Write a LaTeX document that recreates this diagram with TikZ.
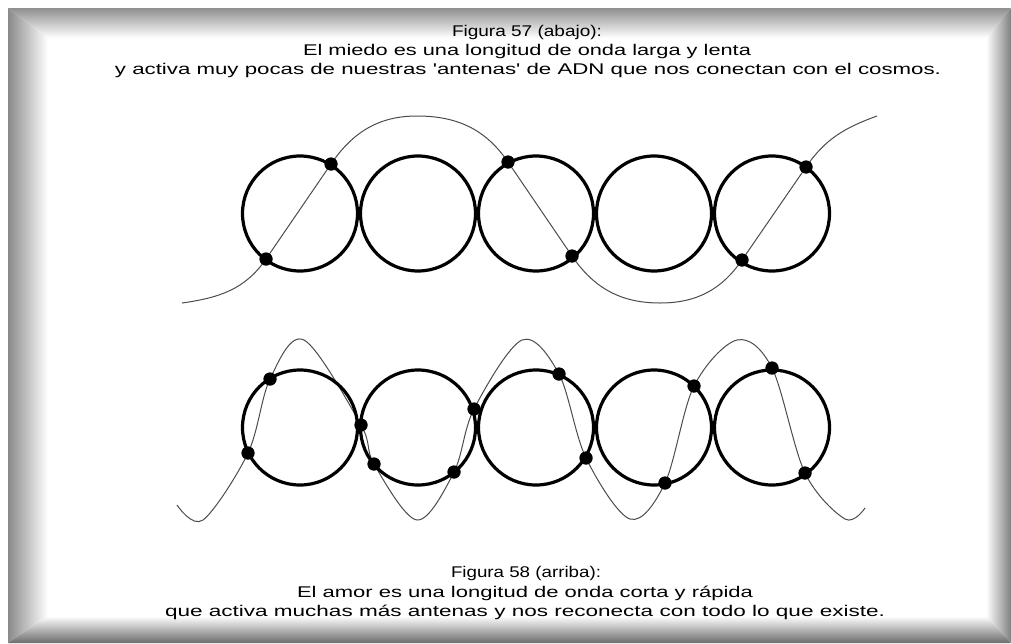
\documentclass[tikz,border=0pt]{standalone}
\usepackage{graphicx}
\usepackage{fontspec}
\setmainfont{Liberation Sans}
\newsavebox\lnbox
\newlength\lnwd
\newcommand\fitline[2]{\sbox\lnbox{#2}\setlength\lnwd{\wd\lnbox}\pgfmathsetmacro\lnfr{#1/\lnwd}\scalebox{\lnfr}[1]{\usebox\lnbox}}
\tikzset{
  ring/.style={circle, draw=black, line width=3.2pt, minimum size=115pt, inner sep=0pt},
  dotn/.style={circle, fill=black, minimum size=13pt, inner sep=0pt},
  wave/.style={draw=black!70, line width=1pt},
  txt/.style={font=\fontsize{15.5}{17}\selectfont, inner sep=0pt, anchor=base, text=black},
}
\begin{document}
\begin{tikzpicture}[x=1pt,y=1pt]
\useasboundingbox (0,0) rectangle (1011,-643);
\fill[white] (0,0) rectangle (1011,-643);
% bevel frame
\shade[top color=black!44, middle color=black!7, bottom color=white] (8,-8) -- (1011,-8) -- (986,-38) -- (48,-38) -- cycle;
\shade[left color=black!46, middle color=black!9, right color=white] (8,-8) -- (48,-38) -- (48,-616) -- (8,-643) -- cycle;
\shade[left color=white, middle color=black!12, right color=black!50] (1011,-8) -- (1011,-643) -- (986,-616) -- (986,-38) -- cycle;
\shade[top color=white, middle color=black!12, bottom color=black!58] (48,-616) -- (986,-616) -- (1011,-643) -- (8,-643) -- cycle;

% texts
\node[txt] (t1) at (527,-36) {\fitline{150}{Figura 57 (abajo):}};
\node[txt] (t2) at (527,-55) {\fitline{448}{El miedo es una longitud de onda larga y lenta}};
\node[txt] (t3) at (528,-74) {\fitline{826}{y activa muy pocas de nuestras \textquotesingle antenas\textquotesingle\ de ADN que nos conectan con el cosmos.}};
\node[txt] (b1) at (526,-577) {\fitline{150}{Figura 58 (arriba):}};
\node[txt] (b2) at (525,-597) {\fitline{456}{El amor es una longitud de onda corta y rápida}};
\node[txt] (b3) at (525,-616) {\fitline{720}{que activa muchas más antenas y nos reconecta con todo lo que existe.}};

% ---------- upper row (Figura 57) ----------
\coordinate (us) at (182,-303);
\coordinate (P1) at (417,-116);
\coordinate (T1) at (660,-303);
\coordinate (ue) at (877,-116);
\node[dotn] (uB) at (266,-259) {};
\node[dotn] (uA) at (331,-164) {};
\node[dotn] (uC) at (508,-162) {};
\node[dotn] (uD) at (572,-256) {};
\node[dotn] (uE) at (742,-260) {};
\node[dotn] (uF) at (806,-167) {};
\draw[wave] (us) to[out=8,in=235.6] (uB.center) -- (uA.center)
  to[out=55.6,in=180] (P1) to[out=0,in=124.25] (uC.center) -- (uD.center)
  to[out=-55.75,in=180] (T1) to[out=0,in=235.5] (uE.center) -- (uF.center)
  to[out=55.5,in=200] (ue);
\foreach \i/\x in {1/300,2/418,3/536,4/654,5/772}
  \node[ring] (U\i) at (\x,-213.5) {};
\foreach \n in {uA,uB,uC,uD,uE,uF}
  \node[dotn] at (\n) {};

% ---------- lower row (Figura 58) ----------
\coordinate (ls) at (177,-505);
\coordinate (lt0) at (203,-520);
\coordinate (lp1) at (304,-340);
\coordinate (lt1) at (417,-520);
\coordinate (lp2) at (522,-340);
\coordinate (lt2) at (630,-519);
\coordinate (lp3) at (737,-340);
\coordinate (lt3) at (845,-519);
\coordinate (le) at (865,-508);
\node[dotn] (d1) at (270,-379) {};
\node[dotn] (d2) at (248,-453) {};
\node[dotn] (d3) at (361,-425) {};
\node[dotn] (d4) at (374,-464) {};
\node[dotn] (d5) at (454,-472) {};
\node[dotn] (d6) at (474,-409) {};
\node[dotn] (d7) at (559,-374) {};
\node[dotn] (d8) at (586,-458) {};
\node[dotn] (d10) at (694,-386) {};
\node[dotn] (d11) at (665,-483) {};
\node[dotn] (d12) at (772,-368) {};
\node[dotn] (d13) at (805,-473) {};
\draw[wave] plot[smooth, tension=0.55] coordinates {(ls) (lt0) (d2.center) (d1.center) (lp1) (d3.center) (d4.center) (lt1) (d5.center) (d6.center) (lp2) (d7.center) (d8.center) (lt2) (d11.center) (d10.center) (lp3) (d12.center) (d13.center) (lt3) (le)};
\foreach \i/\x in {1/300,2/418,3/536,4/654,5/772}
  \node[ring] (L\i) at (\x,-427.5) {};
\foreach \n in {d1,d2,d3,d4,d5,d6,d7,d8,d10,d11,d12,d13}
  \node[dotn] at (\n) {};
\end{tikzpicture}
\end{document}
